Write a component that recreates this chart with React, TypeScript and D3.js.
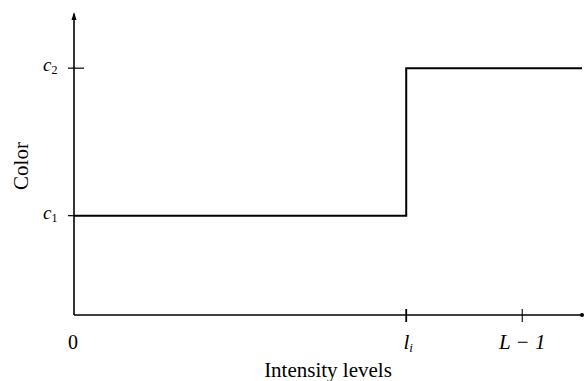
import React from 'react';
import * as d3 from 'd3';

// intensity levels (x) and colour levels (y), in chart units
const levelMax = 255; // L - 1
const levelThreshold = 189; // l_i
const levelAxisEnd = 289;
const colorLow = 0.33; // c1
const colorHigh = 0.82; // c2
const colorAxisEnd = 1.0;

const stepXs = [0, levelThreshold, levelAxisEnd];
const stepYs = [colorLow, colorHigh];

const xTicks = [
    { value: levelThreshold, label: 'l', sub: 'i' },
    { value: levelMax, label: 'L \u2212 1', sub: '' },
];
const yTicks = [
    { value: colorLow, label: 'c', sub: '1' },
    { value: colorHigh, label: 'c', sub: '2' },
];

const W = 586;
const H = 381;
const FONT = '"Liberation Serif", "DejaVu Serif", serif';

const App: React.FC = () => {
    const x = d3.scaleLinear().domain([0, levelAxisEnd]).range([74, 582]);
    const y = d3.scaleLinear().domain([0, colorAxisEnd]).range([315, 14]);

    // piecewise-constant step built from the arrays
    const stepPoints: [number, number][] = [
        [stepXs[0], stepYs[0]],
        [stepXs[1], stepYs[0]],
        [stepXs[1], stepYs[1]],
        [stepXs[2], stepYs[1]],
    ];
    const line = d3.line<[number, number]>()
        .x(d => x(d[0]))
        .y(d => y(d[1]));

    const x0 = x(0);
    const y0 = y(0);

    return (
        <svg width={W} height={H} style={{ position: 'absolute', left: 0, top: 0, background: '#fff' }}>
            {/* axes */}
            <line x1={x0} x2={x0} y1={y0} y2={y(colorAxisEnd)} stroke="#000" strokeWidth={1.6} />
            <polygon
                points={`${x0 - 2.5},${y(colorAxisEnd) + 6} ${x0},${y(colorAxisEnd) - 2} ${x0 + 2.5},${y(colorAxisEnd) + 6}`}
                fill="#000"
            />
            <line x1={x0} x2={x(levelAxisEnd)} y1={y0} y2={y0} stroke="#000" strokeWidth={1.3} />
            <circle cx={x(levelAxisEnd)} cy={y0} r={2} fill="#000" />

            {/* y ticks */}
            {yTicks.map((t, i) => (
                <g key={i}>
                    <line x1={x0 - 6} x2={x0 + (t.value === colorHigh ? 10 : 0)} y1={y(t.value)} y2={y(t.value)} stroke="#000" strokeWidth={1.2} />
                    <text x={x0 - 31} y={y(t.value) + 3} fontFamily={FONT} fontStyle="italic" fontSize={19} fill="#000">
                        {t.label}
                        <tspan fontSize={12} dy={3} fontStyle="normal">{t.sub}</tspan>
                    </text>
                </g>
            ))}

            {/* x ticks */}
            {xTicks.map((t, i) => (
                <g key={i}>
                    <line x1={x(t.value)} x2={x(t.value)} y1={y0 - 6} y2={y0 + 7} stroke="#000" strokeWidth={i === 0 ? 1.8 : 1.1} />
                    <text x={x(t.value) + (i === 0 ? 2 : 0)} y={y0 + 34} textAnchor="middle" fontFamily={FONT} fontStyle="italic" fontSize={21} fill="#000">
                        {t.label}
                        {t.sub && <tspan fontSize={13} dy={3}>{t.sub}</tspan>}
                    </text>
                </g>
            ))}
            <text x={x0 - 1} y={y0 + 34} textAnchor="middle" fontFamily={FONT} fontSize={20} fill="#000">0</text>

            {/* step function */}
            <path d={line(stepPoints) ?? ''} fill="none" stroke="#000" strokeWidth={2} />

            {/* axis titles */}
            <text x={328} y={377} textAnchor="middle" fontFamily={FONT} fontSize={21} fill="#000">Intensity levels</text>
            <text transform={`translate(28,${166}) rotate(-90)`} textAnchor="middle" fontFamily={FONT} fontSize={21} fill="#000">Color</text>
        </svg>
    );
};

export default App;
